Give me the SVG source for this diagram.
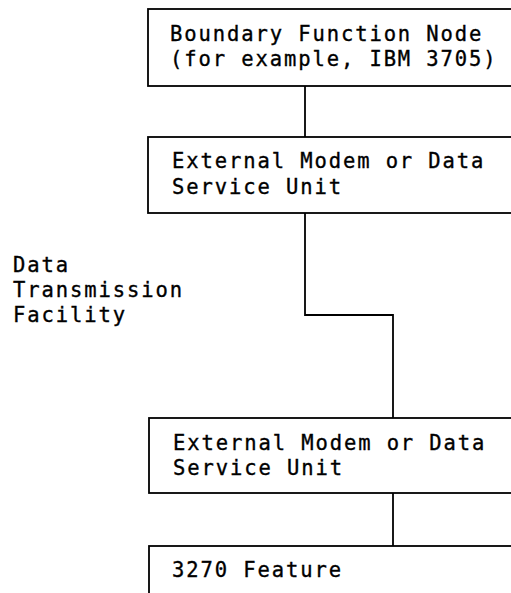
<svg xmlns="http://www.w3.org/2000/svg" width="511" height="593" viewBox="0 0 511 593">
<style>
.box{fill:#fff;stroke:#000;stroke-width:1.8}
.wire{fill:none;stroke:#000;stroke-width:1.8}
text{font-family:"DejaVu Sans Mono","Liberation Mono",monospace;font-size:20.5px;letter-spacing:1.9px;fill:#000;stroke:#000;stroke-width:0.35}
</style>
<rect width="511" height="593" fill="#fff"/>
<g id="connectors">
<line class="wire" x1="305" y1="86" x2="305" y2="137"/>
<polyline class="wire" points="305,213 305,315 393,315 393,418"/>
<line class="wire" x1="393" y1="493" x2="393" y2="546"/>
</g>
<g id="bfn">
<rect class="box" x="148" y="9" width="380" height="77"/>
<text x="170" y="41">Boundary Function Node</text>
<text x="170" y="66">(for example, IBM 3705)</text>
</g>
<g id="modem1">
<rect class="box" x="148" y="137" width="380" height="76"/>
<text x="172" y="168">External Modem or Data</text>
<text x="172" y="194">Service Unit</text>
</g>
<g id="facility">
<text x="13" y="272">Data</text>
<text x="13" y="297">Transmission</text>
<text x="13" y="322">Facility</text>
</g>
<g id="modem2">
<rect class="box" x="149" y="418" width="380" height="75"/>
<text x="173" y="450">External Modem or Data</text>
<text x="173" y="475">Service Unit</text>
</g>
<g id="feature">
<rect class="box" x="149" y="546" width="380" height="60"/>
<text x="172" y="577">3270 Feature</text>
</g>
</svg>
